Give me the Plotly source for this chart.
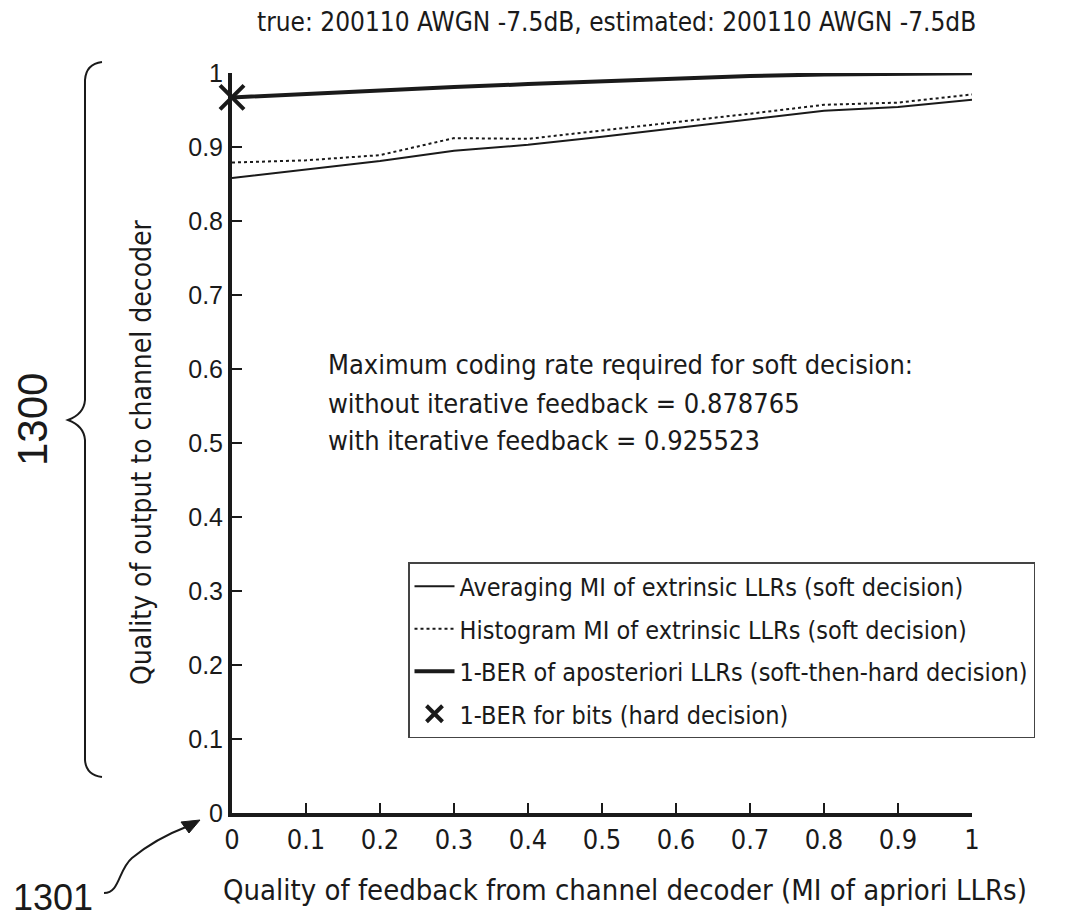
import plotly.graph_objects as go

# Quality of feedback from the channel decoder (MI of a-priori LLRs)
feedback_mi = [0.0, 0.1, 0.2, 0.3, 0.4, 0.5, 0.6, 0.7, 0.8, 0.9, 1.0]

# Averaging MI of extrinsic LLRs (soft decision)
averaging_mi = [0.858, 0.869, 0.881, 0.895, 0.903, 0.914, 0.926, 0.938, 0.949, 0.954, 0.964]
# Histogram MI of extrinsic LLRs (soft decision)
histogram_mi = [0.879, 0.882, 0.889, 0.912, 0.911, 0.922, 0.934, 0.945, 0.957, 0.960, 0.971]
# 1-BER of a-posteriori LLRs (soft-then-hard decision)
one_minus_ber_app = [0.967, 0.972, 0.977, 0.981, 0.985, 0.989, 0.993, 0.996, 0.998, 0.999, 0.9995]
# 1-BER for hard-decision bits (no feedback)
hard_x = [0.0]
hard_y = [0.967]

x_ticks = [0.0, 0.1, 0.2, 0.3, 0.4, 0.5, 0.6, 0.7, 0.8, 0.9, 1.0]
y_ticks = [0.0, 0.1, 0.2, 0.3, 0.4, 0.5, 0.6, 0.7, 0.8, 0.9, 1.0]

rate_without = 0.878765
rate_with = 0.925523

NARROW = "DejaVu Sans Condensed, Liberation Sans Narrow, Arial Narrow, sans-serif"
REGULAR = "Liberation Sans, Arial, sans-serif"
INK = "#1a1a1a"

W, H = 1065, 920
L, R, T, B = 232, 972, 73, 813


def px(x):
    return (x - L) / (R - L)


def py(y):
    return (B - y) / (B - T)


fig = go.Figure()
fig.add_trace(go.Scatter(
    x=feedback_mi, y=averaging_mi, mode="lines",
    line=dict(color=INK, width=2),
    name="Averaging MI of extrinsic LLRs (soft decision)", legendgroup="a"))
fig.add_trace(go.Scatter(
    x=feedback_mi, y=histogram_mi, mode="lines",
    line=dict(color=INK, width=2, dash="3px,3px"),
    name="Histogram MI of extrinsic LLRs (soft decision)", legendgroup="b"))
fig.add_trace(go.Scatter(
    x=feedback_mi, y=one_minus_ber_app, mode="lines",
    line=dict(color=INK, width=4),
    name="1-BER of aposteriori LLRs (soft-then-hard decision)", legendgroup="c"))
fig.add_trace(go.Scatter(
    x=hard_x, y=hard_y, mode="markers",
    marker=dict(symbol="x-thin", size=24, line=dict(color=INK, width=4)),
    name="1-BER for bits (hard decision)", legendgroup="d", cliponaxis=False))

# Curly brace marking the plotted region
brace = [
    (102, 62), (86, 64), (85, 80), (85, 400),
    (84, 414), (68, 420), (84, 426), (85, 440),
    (85, 760), (86, 775), (102, 777),
]


def P(p):
    return f"{px(p[0]):.5f},{py(p[1]):.5f}"


brace_path = (
    f"M {P(brace[0])} Q {P(brace[1])} {P(brace[2])} L {P(brace[3])} "
    f"Q {P(brace[4])} {P(brace[5])} Q {P(brace[6])} {P(brace[7])} "
    f"L {P(brace[8])} Q {P(brace[9])} {P(brace[10])}"
)
arrow_path = (
    f"M {P((104, 893))} C {P((120, 893))} {P((118, 870))} {P((132, 858))} "
    f"C {P((148, 845))} {P((165, 835))} {P((186, 827))}"
)
head_path = f"M {P((200, 820))} L {P((181, 822))} L {P((189, 833))} Z"

shapes = [
    dict(type="path", xref="paper", yref="paper", path=brace_path,
         line=dict(color=INK, width=2)),
    dict(type="path", xref="paper", yref="paper", path=arrow_path,
         line=dict(color=INK, width=2)),
    dict(type="path", xref="paper", yref="paper", path=head_path,
         line=dict(color=INK, width=1), fillcolor=INK),
]


def note(text, x, y, size, family=NARROW, anchor="center", angle=0):
    return dict(text=text, x=px(x), y=py(y), xref="paper", yref="paper", showarrow=False,
                xanchor=anchor, yanchor="middle", textangle=angle,
                font=dict(family=family, size=size, color=INK))


annotations = [
    note("true: 200110 AWGN -7.5dB, estimated: 200110 AWGN -7.5dB", 616, 22, 26),
    note("Quality of output to channel decoder", 141, 452, 28, angle=-90),
    note("Quality of feedback from channel decoder (MI of apriori LLRs)", 625, 890, 29),
    note("Maximum coding rate required for soft decision:", 326, 364, 27, anchor="left"),
    note(f"without iterative feedback = {rate_without:.6f}", 326, 403, 27, anchor="left"),
    note(f"with iterative feedback = {rate_with:.6f}", 326, 440, 27, anchor="left"),
    note("1300", 32, 420, 42, family=REGULAR, angle=-90),
    note("1301", 53, 897, 36, family=REGULAR),
]

fig.update_layout(
    width=W, height=H,
    margin=dict(l=L, r=W - R, t=T, b=H - B),
    paper_bgcolor="white", plot_bgcolor="white",
    showlegend=True,
    legend=dict(
        x=px(1035), y=py(562), xanchor="right", yanchor="top",
        bgcolor="white", bordercolor="#444", borderwidth=1.5,
        font=dict(family=NARROW, size=25, color=INK),
        tracegroupgap=7, itemwidth=40,
    ),
    shapes=shapes,
    annotations=annotations,
)
fig.update_xaxes(
    range=[0, 1], tickvals=x_ticks, ticktext=[f"{v:g}" for v in x_ticks],
    showgrid=False, zeroline=False, showline=True, linecolor=INK, linewidth=4,
    ticks="inside", ticklen=10, tickwidth=1.5, tickcolor=INK,
    tickfont=dict(family=NARROW, size=27, color=INK),
)
fig.update_yaxes(
    range=[0, 1], tickvals=y_ticks, ticktext=[f"{v:g}" for v in y_ticks],
    showgrid=False, zeroline=False, showline=True, linecolor=INK, linewidth=4,
    ticks="inside", ticklen=10, tickwidth=1.5, tickcolor=INK,
    tickfont=dict(family=REGULAR, size=25, color=INK),
)

fig.write_html("out.html")
